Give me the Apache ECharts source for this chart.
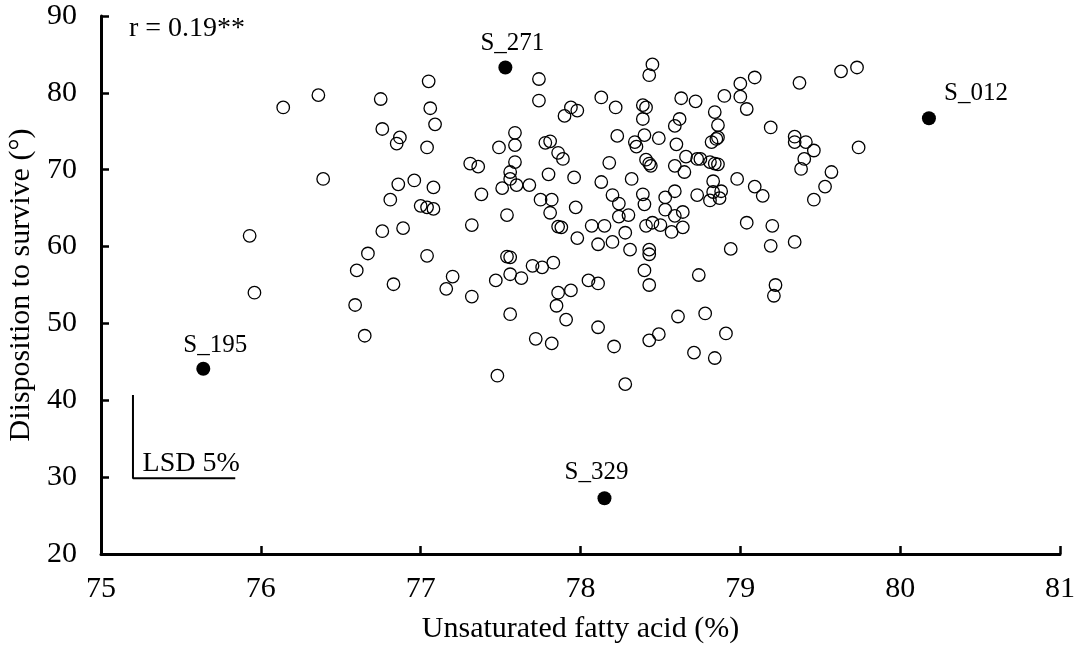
<!DOCTYPE html>
<html><head><meta charset="utf-8">
<script src="https://cdn.jsdelivr.net/npm/echarts@6/dist/echarts.min.js"></script>
<style>html,body{margin:0;padding:0;background:#fff}#c{width:1078px;height:649px}</style>
</head><body><div id="c"></div>
<script>
// Unsaturated fatty acid (%) of the ordinary accessions
const ufaOpen = [76.14,76.36,76.39,75.93,75.96,76.60,76.59,76.67,76.65,76.75,
76.76,76.85,76.87,76.76,76.81,76.86,76.89,76.83,76.96,77.00,
77.04,77.08,77.05,77.06,77.09,77.04,77.08,77.04,77.20,77.16,
77.32,77.32,77.38,77.31,77.36,77.49,77.59,77.59,77.59,77.56,
77.56,77.51,77.60,77.68,77.54,77.54,77.56,77.56,77.47,77.63,
77.56,77.70,77.76,77.83,77.74,77.74,77.90,77.94,77.98,77.78,
77.81,77.86,77.89,77.80,77.96,77.75,77.82,77.81,77.97,77.86,
77.88,77.98,77.86,77.94,77.85,77.91,77.72,77.82,77.48,78.13,
78.22,78.23,78.18,78.13,78.20,78.24,78.07,78.15,78.11,78.20,
78.24,78.30,78.28,78.31,78.32,78.05,78.11,78.11,78.21,78.28,
78.43,78.49,78.61,78.71,78.78,78.91,78.84,79.22,79.21,78.45,
78.43,78.63,78.72,78.39,78.41,78.39,78.40,78.49,78.34,78.35,
78.60,78.59,78.62,78.66,78.73,78.41,78.43,78.44,78.59,78.65,
78.59,78.73,78.39,78.40,78.53,78.53,78.59,78.64,78.41,78.45,
78.50,78.57,78.64,78.43,78.43,78.40,78.43,78.74,79.73,79.63,
79.37,79.09,79.00,79.00,79.04,78.90,78.84,78.86,78.82,78.85,
78.86,79.19,79.34,79.34,79.41,79.46,79.40,79.38,79.74,78.75,
78.81,78.84,78.86,78.83,78.83,78.88,78.81,78.87,78.98,79.09,
79.14,79.57,79.53,79.46,79.04,79.20,78.94,79.19,79.34];
// Disposition to survive (°) of the ordinary accessions
const dtsOpen = [78.1,79.7,68.8,61.4,54.0,56.9,52.4,59.1,48.4,79.2,
75.3,73.4,74.2,62.0,66.1,68.1,62.4,55.1,68.6,65.3,
65.1,64.9,81.5,78.0,75.9,72.9,67.7,58.8,56.1,54.5,
53.5,62.8,66.8,70.8,70.4,72.9,74.8,73.2,71.0,69.7,
68.8,67.6,68.0,68.0,64.1,58.7,58.6,56.4,55.6,55.9,
51.2,57.5,57.3,57.9,81.8,79.0,77.0,78.1,77.7,73.5,
73.7,72.2,71.4,69.4,69.0,66.1,66.1,64.4,65.1,62.6,
62.5,61.1,54.0,54.3,52.3,50.5,48.0,47.4,43.2,79.4,
78.1,74.4,70.9,68.4,66.7,65.6,62.7,62.7,60.3,60.6,
63.9,64.1,61.8,59.6,68.8,55.6,55.2,49.5,47.0,42.1,
47.8,48.6,50.9,46.2,51.3,48.7,45.5,55.0,53.6,83.7,
82.3,79.3,78.9,78.4,78.1,76.6,74.5,74.1,73.6,73.0,
73.3,75.7,76.6,71.7,71.4,71.3,70.8,70.5,70.5,69.7,
67.2,66.7,66.8,65.5,66.4,64.8,64.0,64.5,62.7,63.1,
62.8,61.9,62.5,59.6,59.0,56.9,55.0,56.3,83.3,82.8,
81.3,82.0,81.2,79.5,77.9,79.6,77.5,75.8,73.6,74.0,
74.2,75.5,74.3,73.6,73.6,72.5,71.4,70.1,72.9,71.4,
71.0,70.8,70.7,68.5,67.1,67.2,66.0,66.3,68.8,67.8,
66.6,69.7,67.8,66.1,63.1,62.7,59.7,60.1,60.6];

// Highlighted accessions
const hlNames = ['S_271', 'S_012', 'S_195', 'S_329'];
const hlUfa = [77.53, 80.18, 75.64, 78.15];
const hlDts = [83.3, 76.7, 44.1, 27.25];

// LSD 5% bar (x, y corner points)
const lsdX = [75.2, 75.2, 75.84];
const lsdY = [40.7, 29.85, 29.85];

// Text notes anchored at data coordinates
const noteText = ['r = 0.19**', 'LSD 5%'];
const noteX = [75.175, 75.26];
const noteY = [88.3, 31.8];

const xTicks = {min: 75, max: 81, interval: 1};
const yTicks = {min: 20, max: 90, interval: 10};

const FONT = '"Liberation Serif", "Times New Roman", serif';

const openData = ufaOpen.map((x, i) => [x, dtsOpen[i]]);
const hlOffsets = [[7, 0], [47, 0], [12, 1], [-8, -1]];
const hlData = hlNames.map((n, i) => ({
  name: n, value: [hlUfa[i], hlDts[i]],
  label: {offset: hlOffsets[i]}
}));
const lsdData = lsdX.map((x, i) => [x, lsdY[i]]);
const noteData = noteText.map((t, i) => ({name: t, value: [noteX[i], noteY[i]]}));

const chart = echarts.init(document.getElementById('c'), null, {renderer: 'canvas'});
const axisCommon = {
  axisLine: {show: true, lineStyle: {color: '#000', width: 3}},
  axisTick: {show: true, inside: true, length: 8, lineStyle: {color: '#000', width: 2.5}},
  splitLine: {show: false},
  axisLabel: {color: '#000', fontFamily: FONT, fontSize: 30},
  nameTextStyle: {color: '#000', fontFamily: FONT, fontSize: 30},
  nameLocation: 'middle'
};
chart.setOption({
  animation: false,
  backgroundColor: '#fff',
  grid: {left: 101, right: 18, top: 16, bottom: 95, containLabel: false, outerBoundsMode: 'none'},
  xAxis: Object.assign({}, axisCommon, {
    type: 'value', min: xTicks.min, max: xTicks.max, interval: xTicks.interval,
    name: 'Unsaturated fatty acid (%)', nameGap: 60,
    axisLabel: Object.assign({}, axisCommon.axisLabel, {margin: 20})
  }),
  yAxis: Object.assign({}, axisCommon, {
    type: 'value', min: yTicks.min, max: yTicks.max, interval: yTicks.interval,
    name: 'Diisposition to survive (°)', nameGap: 63,
    axisLabel: Object.assign({}, axisCommon.axisLabel, {margin: 24})
  }),
  series: [
    {
      type: 'scatter', data: openData, symbol: 'circle', symbolSize: 12.5,
      itemStyle: {color: 'rgba(0,0,0,0)', borderColor: '#000', borderWidth: 1.3, opacity: 1},
      z: 3
    },
    {
      type: 'scatter', data: hlData, symbol: 'circle', symbolSize: 14,
      itemStyle: {color: '#000', opacity: 1},
      label: {show: true, position: 'top', distance: 5, formatter: '{b}',
        color: '#000', fontFamily: FONT, fontSize: 25},
      z: 4
    },
    {
      type: 'line', data: lsdData, symbol: 'none',
      lineStyle: {color: '#000', width: 2}, z: 2
    },
    {
      type: 'scatter', data: noteData, symbolSize: 0,
      itemStyle: {opacity: 1},
      label: {show: true, position: 'right', distance: 0, formatter: '{b}',
        color: '#000', opacity: 1, fontFamily: FONT, fontSize: 28},
      z: 5
    }
  ]
});
</script></body></html>
